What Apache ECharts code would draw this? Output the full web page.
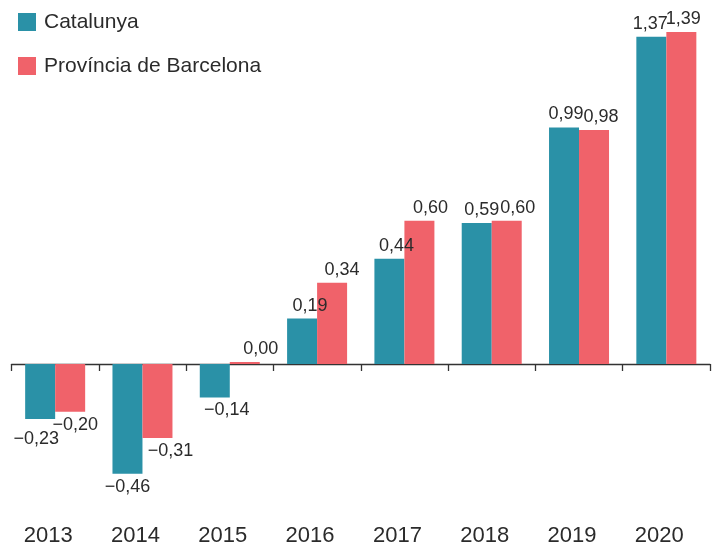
<!DOCTYPE html>
<html>
<head>
<meta charset="utf-8">
<script src="https://cdn.jsdelivr.net/npm/echarts@6/dist/echarts.min.js"></script>
<style>
  html, body { margin: 0; padding: 0; background: #fff; }
  #chart { width: 718px; height: 548px; }
</style>
</head>
<body>
<div id="chart"></div>
<script>
var years = ['2013', '2014', '2015', '2016', '2017', '2018', '2019', '2020'];
var catalunya = [-0.23, -0.46, -0.14, 0.19, 0.44, 0.59, 0.99, 1.37];
var barcelona = [-0.20, -0.31, 0.00, 0.34, 0.60, 0.60, 0.98, 1.39];

// decalage des etiquettes (style), comme sur l'original
var offsetsCat = [[-4, 7], [0, 0], [12, 0], [8, 0], [7, 0], [5, 0], [2, 0], [-1, 0]];
var offsetsBcn = [[5, 0], [13, 0], [16, 0], [10, 0], [11, 0], [11, 0], [7, 0], [2, 0]];

var FONT = '"Liberation Sans", Arial, sans-serif';
var TEXT = '#2b2b2b';

function fmt(p) {
    return p.value.toFixed(2).replace('.', ',').replace('-', '\u2212');
}

function barData(values, offsets) {
    return values.map(function (v, i) {
        return {
            value: v,
            label: { position: v < 0 ? 'bottom' : 'top', offset: offsets[i] }
        };
    });
}

var labelStyle = { show: true, formatter: fmt, fontSize: 18, color: TEXT, distance: 4, fontFamily: FONT };

var chart = echarts.init(document.getElementById('chart'));
chart.setOption({
    animation: false,
    backgroundColor: '#fff',
    textStyle: { fontFamily: FONT },
    legend: {
        orient: 'vertical',
        left: 13,
        top: 6,
        itemWidth: 18,
        itemHeight: 18,
        itemGap: 22,
        icon: 'rect',
        textStyle: { fontSize: 21, lineHeight: 22, color: TEXT, fontFamily: FONT, padding: [0, 0, 0, 3] }
    },
    grid: { left: 11.5, right: 8, top: 20, bottom: 40.7 },
    xAxis: [{
        type: 'category',
        data: years,
        position: 'bottom',
        axisLine: { onZero: true, lineStyle: { color: '#333', width: 1.3 } },
        axisTick: { show: true, length: 7, lineStyle: { color: '#333', width: 1.3 } },
        axisLabel: { show: false }
    }, {
        type: 'category',
        data: years,
        position: 'bottom',
        axisLine: { show: false, onZero: false },
        axisTick: { show: false },
        axisLabel: { margin: 18, fontSize: 22, color: TEXT, fontFamily: FONT, padding: [0, 14, 0, 0] }
    }],
    yAxis: {
        type: 'value',
        min: -0.6,
        max: 1.44,
        show: false,
        splitLine: { show: false }
    },
    series: [{
        name: 'Catalunya',
        type: 'bar',
        xAxisIndex: 0,
        data: barData(catalunya, offsetsCat),
        barWidth: 30,
        barGap: '0%',
        itemStyle: { color: '#2a91a7' },
        label: labelStyle
    }, {
        name: 'Prov\u00edncia de Barcelona',
        type: 'bar',
        xAxisIndex: 0,
        data: barData(barcelona, offsetsBcn),
        barWidth: 30,
        barGap: '0%',
        barMinHeight: 2,
        itemStyle: { color: '#f0626a' },
        label: labelStyle
    }]
});
</script>
</body>
</html>
